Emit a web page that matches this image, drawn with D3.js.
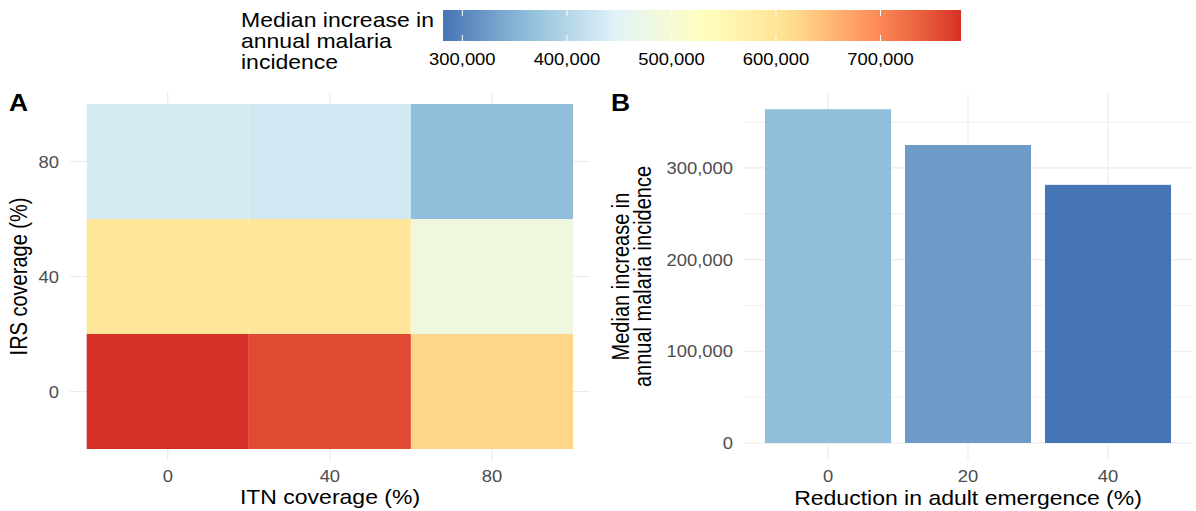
<!DOCTYPE html>
<html>
<head>
<meta charset="utf-8">
<script src="https://cdn.jsdelivr.net/npm/d3@7"></script>
<style>
  body { margin: 0; background: #ffffff; }
  text { font-family: "Liberation Sans", Arial, sans-serif; }
</style>
</head>
<body>
<svg id="chart" width="1196" height="511"></svg>
<script>
// ---- data ----
const itnCoverage = [0, 40, 80];          // ITN coverage (%), columns
const irsCoverage = [0, 40, 80];          // IRS coverage (%), rows
// median increase in annual malaria incidence, one array per IRS level (ITN 0, 40, 80)
const incidenceIrs0  = [777000, 758000, 622000];
const incidenceIrs40 = [597000, 595000, 483000];
const incidenceIrs80 = [434000, 430000, 364000];
const emergenceReduction = ["0", "20", "40"];           // reduction in adult emergence (%)
const incidenceByReduction = [364000, 325000, 281500];
const legendTicks = [300000, 400000, 500000, 600000, 700000];
const barTicks = [0, 100000, 200000, 300000];
const barMinorTicks = [50000, 150000, 250000, 350000];
const palette = ["#4575b4", "#91bfdb", "#e0f3f8", "#ffffbf", "#fee090", "#fc8d59", "#d73027"];

const heatCells = [];
[incidenceIrs0, incidenceIrs40, incidenceIrs80].forEach((row, r) =>
  row.forEach((v, c) => heatCells.push({ itn: itnCoverage[c], irs: irsCoverage[r], value: v })));

// ---- shared colour scale ----
const allValues = heatCells.map(d => d.value).concat(incidenceByReduction);
const [vMin, vMax] = d3.extent(allValues);
const stops = palette.map((_, i) => vMin + (vMax - vMin) * i / (palette.length - 1));
const color = d3.scaleLinear().domain(stops).range(palette).interpolate(d3.interpolateLab);

// ---- helpers ----
const svg = d3.select("#chart");
const K = 1.15;            // horizontal glyph stretch used for all labels
const tickCol = "#4d4d4d", gridCol = "#ebebeb";
const fmt = d3.format(",");

function label(g, x, y, str, o = {}) {
  const rot = o.rotate ? ` rotate(${o.rotate})` : "";
  return g.append("text")
    .attr("transform", `translate(${x},${y}) scale(${K},1)${rot}`)
    .attr("text-anchor", o.anchor || "start")
    .attr("font-size", o.size || 16)
    .attr("font-weight", o.weight || "normal")
    .attr("fill", o.fill || "#000")
    .text(str);
}

// ---- legend (colour bar) ----
const leg = svg.append("g");
const barL = 443, barR = 961, barT = 10, barB = 41;
const lx = d3.scaleLinear().domain([vMin, vMax]).range([barL, barR]);
const grad = svg.append("defs").append("linearGradient").attr("id", "cbar");
d3.range(0, 1.0001, 0.02).forEach(t => {
  grad.append("stop").attr("offset", t).attr("stop-color", color(vMin + t * (vMax - vMin)));
});
leg.append("rect").attr("x", barL).attr("y", barT).attr("width", barR - barL).attr("height", barB - barT)
  .attr("fill", "url(#cbar)");
legendTicks.forEach(t => {
  const x = lx(t);
  leg.append("line").attr("x1", x).attr("x2", x).attr("y1", barT).attr("y2", barT + 6)
    .attr("stroke", "#fff").attr("stroke-width", 1);
  leg.append("line").attr("x1", x).attr("x2", x).attr("y1", barB - 6).attr("y2", barB)
    .attr("stroke", "#fff").attr("stroke-width", 1);
  label(leg, x, 65, fmt(t), { anchor: "middle", size: 16, fill: "#000" });
});
["Median increase in", "annual malaria", "incidence"].forEach((s, i) =>
  label(leg, 241, 27 + i * 21, s, { size: 20 }));

// ---- panel A: heatmap ----
const A = svg.append("g");
const aL = 70, aR = 590, aT = 92, aB = 461;
const ax = d3.scaleLinear().domain([-20, 100]).range([86.7, 573]);
const ay = d3.scaleLinear().domain([-20, 100]).range([449, 104]);
itnCoverage.forEach(v => A.append("line").attr("x1", ax(v)).attr("x2", ax(v)).attr("y1", aT).attr("y2", aB)
  .attr("stroke", gridCol).attr("stroke-width", 1.1));
irsCoverage.forEach(v => A.append("line").attr("x1", aL).attr("x2", aR).attr("y1", ay(v)).attr("y2", ay(v))
  .attr("stroke", gridCol).attr("stroke-width", 1.1));
A.selectAll("rect.cell").data(heatCells).join("rect").attr("class", "cell")
  .attr("x", d => ax(d.itn - 20)).attr("width", d => ax(d.itn + 20) - ax(d.itn - 20))
  .attr("y", d => ay(d.irs + 20)).attr("height", d => ay(d.irs - 20) - ay(d.irs + 20))
  .attr("fill", d => color(d.value));
itnCoverage.forEach(v => label(A, ax(v), 482, String(v), { anchor: "middle", fill: tickCol }));
irsCoverage.forEach(v => label(A, 59, ay(v) + 6, String(v), { anchor: "end", fill: tickCol }));
label(A, (aL + aR) / 2, 504, "ITN coverage (%)", { anchor: "middle", size: 20 });
label(A, 27, (aT + aB) / 2, "IRS coverage (%)", { anchor: "middle", size: 20, rotate: -90 });
label(A, 9, 111, "A", { size: 23, weight: "bold" });

// ---- panel B: bars ----
const B = svg.append("g");
const bL = 744, bR = 1192, bT = 93, bB = 460;
const bx = d3.scaleBand().domain(emergenceReduction).range([bL, bR]).paddingInner(0.1).paddingOuter(0.15);
const by = d3.scaleLinear().domain([0, 100000]).range([443, 351.3]);
barMinorTicks.forEach(v => B.append("line").attr("x1", bL).attr("x2", bR).attr("y1", by(v)).attr("y2", by(v))
  .attr("stroke", gridCol).attr("stroke-width", 0.8));
barTicks.forEach(v => B.append("line").attr("x1", bL).attr("x2", bR).attr("y1", by(v)).attr("y2", by(v))
  .attr("stroke", gridCol).attr("stroke-width", 1.1));
emergenceReduction.forEach(c => {
  const x = bx(c) + bx.bandwidth() / 2;
  B.append("line").attr("x1", x).attr("x2", x).attr("y1", bT).attr("y2", bB)
    .attr("stroke", gridCol).attr("stroke-width", 1.1);
});
B.selectAll("rect.bar").data(emergenceReduction).join("rect").attr("class", "bar")
  .attr("x", d => bx(d)).attr("width", bx.bandwidth())
  .attr("y", (d, i) => by(incidenceByReduction[i]))
  .attr("height", (d, i) => by(0) - by(incidenceByReduction[i]))
  .attr("fill", (d, i) => color(incidenceByReduction[i]));
emergenceReduction.forEach(c => label(B, bx(c) + bx.bandwidth() / 2, 482, c, { anchor: "middle", fill: tickCol }));
barTicks.forEach(v => label(B, 733, by(v) + 6, fmt(v), { anchor: "end", fill: tickCol }));
label(B, (bL + bR) / 2, 505, "Reduction in adult emergence (%)", { anchor: "middle", size: 20 });
label(B, 629, (bT + bB) / 2, "Median increase in", { anchor: "middle", size: 20, rotate: -90 });
label(B, 651, (bT + bB) / 2, "annual malaria incidence", { anchor: "middle", size: 20, rotate: -90 });
label(B, 611, 111, "B", { size: 23, weight: "bold" });
</script>
</body>
</html>
